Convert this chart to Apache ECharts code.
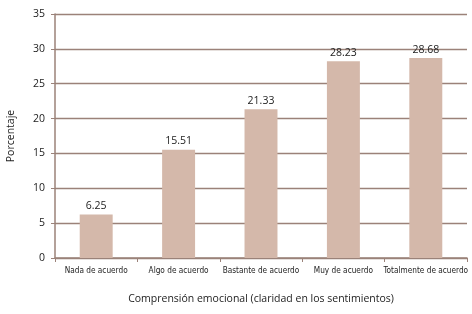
<!DOCTYPE html>
<html>
<head>
<meta charset="utf-8">
<script src="https://cdn.jsdelivr.net/npm/echarts@6/dist/echarts.min.js"></script>
<style>
  html, body { margin: 0; padding: 0; background: #fff; }
  #chart { width: 472px; height: 314px; }
</style>
</head>
<body>
<div id="chart"></div>
<script>
var categories = ['Nada de acuerdo', 'Algo de acuerdo', 'Bastante de acuerdo', 'Muy de acuerdo', 'Totalmente de acuerdo'];
var values = [6.25, 15.51, 21.33, 28.23, 28.68];
var labels = ['6.25', '15.51', '21.33', '28.23', '28.68'];

var lineColor = '#9b8279';
var chart = echarts.init(document.getElementById('chart'), null, { renderer: 'canvas' });

chart.setOption({
  animation: false,
  grid: { left: 55, right: 5, top: 14, bottom: 56, outerBoundsMode: 'none', containLabel: false },
  xAxis: {
    type: 'category',
    data: categories,
    name: 'Comprensión emocional (claridad en los sentimientos)',
    nameLocation: 'middle',
    nameGap: 36,
    nameTextStyle: { fontFamily: 'Open Sans', fontSize: 10.5, color: '#222' },
    axisLine: { lineStyle: { color: lineColor, width: 1.5 } },
    axisTick: { show: true, alignWithLabel: false, length: 4, lineStyle: { color: lineColor } },
    axisLabel: { fontFamily: 'DejaVu Sans Condensed', fontSize: 8.2, color: '#222', margin: 9, interval: 0 }
  },
  yAxis: {
    type: 'value',
    min: 0,
    max: 35,
    interval: 5,
    name: 'Porcentaje',
    nameLocation: 'middle',
    nameGap: 38,
    nameTextStyle: { fontFamily: 'Open Sans', fontSize: 10.5, color: '#222' },
    axisLine: { show: true, lineStyle: { color: lineColor, width: 1.5 } },
    axisTick: { show: true, length: 4, lineStyle: { color: lineColor } },
    axisLabel: { fontFamily: 'Open Sans', fontSize: 10.5, color: '#222', margin: 10 },
    splitLine: { show: true, lineStyle: { color: lineColor, width: 1.3 } }
  },
  series: [{
    type: 'bar',
    data: values,
    barWidth: '40%',
    itemStyle: { color: '#d4b8aa' },
    label: {
      show: true,
      position: 'top',
      distance: 3,
      fontFamily: 'Open Sans',
      fontSize: 10.5,
      color: '#222',
      formatter: function (p) { return labels[p.dataIndex]; }
    }
  }]
});
</script>
</body>
</html>
